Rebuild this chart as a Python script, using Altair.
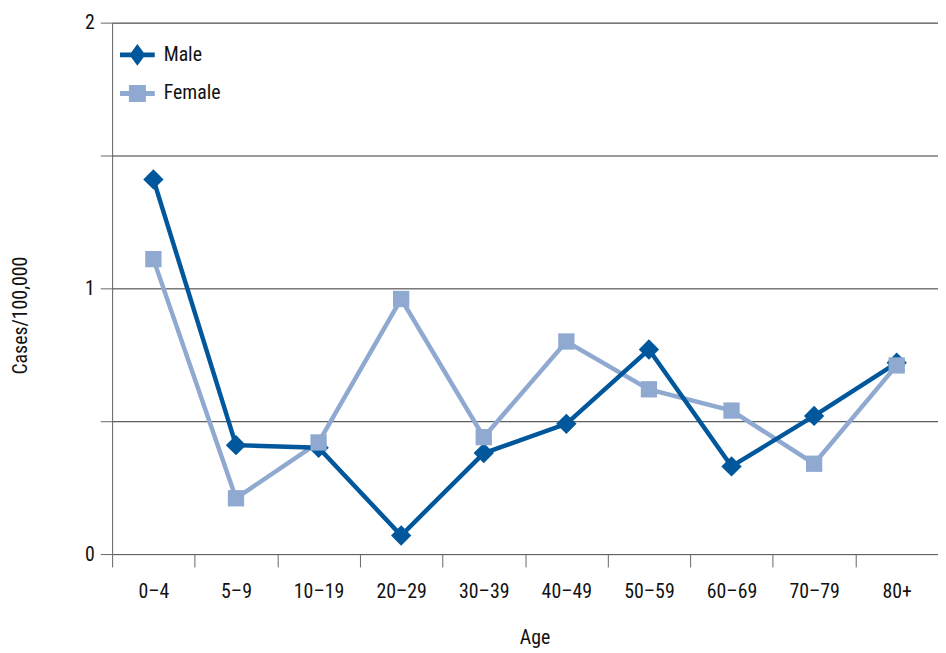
import altair as alt
import pandas as pd

ages = ["0–4", "5–9", "10–19", "20–29", "30–39", "40–49", "50–59", "60–69", "70–79", "80+"]
male = [1.41, 0.41, 0.40, 0.07, 0.38, 0.49, 0.77, 0.33, 0.52, 0.72]
female = [1.11, 0.21, 0.42, 0.96, 0.44, 0.80, 0.62, 0.54, 0.34, 0.71]
series = ["Male", "Female"]
colors = ["#00579b", "#8fa9d1"]

rows = []
for a, m, f in zip(ages, male, female):
    rows.append({"age": a, "series": "Male", "value": m})
    rows.append({"age": a, "series": "Female", "value": f})
df = pd.DataFrame(rows)

FONT = "Liberation Sans Narrow, Arial Narrow, Roboto Condensed, Liberation Sans, sans-serif"

diamond_line = ("M-1,-0.14 L-0.36,-0.14 L0,-0.63 L0.36,-0.14 L1,-0.14 L1,0.14 "
                "L0.36,0.14 L0,0.63 L-0.36,0.14 L-1,0.14 Z")
square_line = ("M-1,-0.14 L-0.49,-0.14 L-0.49,-0.49 L0.49,-0.49 L0.49,-0.14 L1,-0.14 "
               "L1,0.14 L0.49,0.14 L0.49,0.49 L-0.49,0.49 L-0.49,0.14 L-1,0.14 Z")

x_enc = alt.X(
    "age:N",
    sort=ages,
    scale=alt.Scale(domain=ages, paddingInner=0, paddingOuter=0),
    axis=alt.Axis(
        title="Age", labelAngle=0, tickBand="extent", tickSize=13, labelPadding=15,
        domainColor="#666666", tickColor="#666666", grid=False,
        labelFont=FONT, labelFontSize=20, labelColor="#111111",
        titleFont=FONT, titleFontSize=20, titleFontWeight="normal", titleColor="#111111",
        titleX=426, titleY=84, titleBaseline="middle", titleAlign="center",
    ),
)
y_enc = alt.Y(
    "value:Q",
    scale=alt.Scale(domain=[0, 2], nice=False, zero=True),
    axis=alt.Axis(
        title="Cases/100,000", values=[0, 0.5, 1, 1.5, 2], format="~g",
        labelExpr="datum.value % 1 == 0 ? datum.label : ''",
        tickSize=12, labelPadding=6, domainColor="#666666", tickColor="#666666",
        grid=True, gridColor="#333333", gridWidth=1,
        labelFont=FONT, labelFontSize=20, labelColor="#111111",
        titleFont=FONT, titleFontSize=20, titleFontWeight="normal", titleColor="#111111",
        titleX=-92, titleY=295, titleAngle=-90, titleBaseline="middle", titleAlign="center",
    ),
)
color_scale = alt.Scale(domain=series, range=colors)
color_enc = alt.Color("series:N", scale=color_scale, legend=None)

base = alt.Chart(df)

lines_f = base.transform_filter(alt.datum.series == "Female").mark_line(strokeWidth=4.5).encode(
    x=x_enc, y=y_enc, color=color_enc)
lines_m = base.transform_filter(alt.datum.series == "Male").mark_line(strokeWidth=4.5).encode(
    x=x_enc, y=y_enc, color=color_enc)

pts_m = base.transform_filter(alt.datum.series == "Male").mark_point(
    filled=True, opacity=1, shape="diamond", size=420).encode(x=x_enc, y=y_enc, color=color_enc)
pts_f = base.transform_filter(alt.datum.series == "Female").mark_point(
    filled=True, opacity=1, shape="square", size=270).encode(x=x_enc, y=y_enc, color=color_enc)

leg = alt.Legend(
    title=None, orient="none", legendX=8, legendY=15,
    symbolSize=1225, symbolStrokeWidth=0, symbolOpacity=1, rowPadding=10,
    labelFont=FONT, labelFontSize=20, labelColor="#111111", labelOffset=9,
)

legend_layer = base.mark_point(filled=True, opacity=0).encode(
    x=x_enc, y=y_enc,
    color=alt.Color("series:N", scale=color_scale, legend=leg),
    shape=alt.Shape(
        "series:N",
        scale=alt.Scale(domain=series, range=[diamond_line, square_line]),
        legend=leg,
    ),
)

chart = alt.layer(lines_f, lines_m, pts_m, pts_f, legend_layer).resolve_scale(
    shape="independent", color="independent"
).properties(
    width=833, height=536,
    autosize=alt.AutoSizeParams(type="none"),
    padding={"left": 105, "top": 12, "right": 0, "bottom": 95},
).configure_view(stroke=None).configure(background="white")

chart.save("out.html", embed_options={"renderer": "svg", "actions": False})
